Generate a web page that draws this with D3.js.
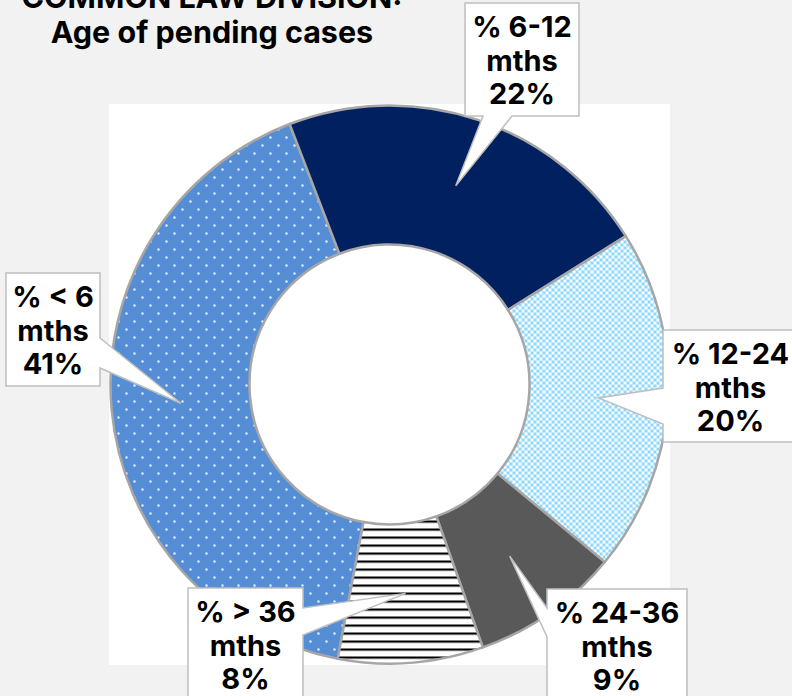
<!DOCTYPE html>
<html>
<head>
<meta charset="utf-8">
<script src="https://cdn.jsdelivr.net/npm/d3@7"></script>
<style>
  html, body { margin: 0; padding: 0; background: #f2f2f2; }
  svg { display: block; }
  text { font-family: Inter, "Liberation Sans", sans-serif; font-weight: 700; fill: #000; }
</style>
</head>
<body>
<svg id="chart" width="792" height="696"></svg>
<script>
// ---- data ----
const titleLines = ["COMMON LAW DIVISION:", "Age of pending cases"];
const categories = ["% < 6 mths", "% 6-12 mths", "% 12-24 mths", "% 24-36 mths", "% > 36 mths"];
const shares = [41.2, 21.9, 19.9, 8.6, 8.4];
const fills = ["url(#dots)", "#002060", "url(#checker)", "#595959", "url(#hlines)"];

// ---- layout ----
const W = 792, H = 696;
const cx = 389.5, cy = 384.5, outerR = 279, innerR = 140;
const firstSliceDeg = 190.7;
const callouts = [
  { x: 6,   y: 273, w: 94,  h: 113, side: "right",  base: [338, 368] },
  { x: 465, y: 3,   w: 114, h: 113, side: "bottom", base: [483, 512] },
  { x: 663, y: 330, w: 135, h: 112, side: "left",   base: [388, 424] },
  { x: 547, y: 589, w: 140, h: 120, side: "left",   base: [608, 637] },
  { x: 188, y: 588, w: 115, h: 120, side: "right",  base: [608, 635] }
];

const svg = d3.select("#chart");
const defs = svg.append("defs");

// patterns
const pDots = defs.append("pattern").attr("id", "dots").attr("patternUnits", "userSpaceOnUse")
  .attr("width", 16).attr("height", 16);
pDots.append("rect").attr("width", 16).attr("height", 16).attr("fill", "#558ed5");
pDots.append("rect").attr("x", 0).attr("y", 0).attr("width", 2).attr("height", 2).attr("fill", "#fff");
pDots.append("rect").attr("x", 8).attr("y", 8).attr("width", 2).attr("height", 2).attr("fill", "#fff");

const pChk = defs.append("pattern").attr("id", "checker").attr("patternUnits", "userSpaceOnUse")
  .attr("width", 6).attr("height", 6);
pChk.append("rect").attr("width", 6).attr("height", 6).attr("fill", "#fff");
pChk.append("rect").attr("x", 0).attr("y", 0).attr("width", 3).attr("height", 3).attr("fill", "#8ad9fd");
pChk.append("rect").attr("x", 3).attr("y", 3).attr("width", 3).attr("height", 3).attr("fill", "#8ad9fd");

const pLines = defs.append("pattern").attr("id", "hlines").attr("patternUnits", "userSpaceOnUse")
  .attr("width", 8).attr("height", 8);
pLines.append("rect").attr("width", 8).attr("height", 8).attr("fill", "#fff");
pLines.append("rect").attr("x", 0).attr("y", 0).attr("width", 8).attr("height", 2.2).attr("fill", "#000");

// background + plot area
svg.append("rect").attr("width", W).attr("height", H).attr("fill", "#f2f2f2");
svg.append("rect")
  .attr("x", cx - outerR - 1.5).attr("y", cy - outerR - 1.5)
  .attr("width", 2 * outerR + 3).attr("height", 2 * outerR + 3)
  .attr("fill", "#fff");

// donut
const data = categories.map((c, i) => ({ cat: c, value: shares[i], fill: fills[i] }));
const start = firstSliceDeg * Math.PI / 180;
const pie = d3.pie().sort(null).value(d => d.value).startAngle(start).endAngle(start + 2 * Math.PI);
const arcs = pie(data);
const arc = d3.arc().innerRadius(innerR).outerRadius(outerR);

const g = svg.append("g").attr("transform", `translate(${cx},${cy})`);
g.selectAll("path.slice").data(arcs).enter().append("path")
  .attr("class", "slice")
  .attr("d", arc)
  .attr("fill", d => d.data.fill)
  .attr("stroke", "#a6a6a6")
  .attr("stroke-width", 2.5)
  .attr("stroke-linejoin", "round");

// title
const title = svg.append("text").attr("text-anchor", "middle").attr("font-size", 30.5);
titleLines.forEach((t, i) => {
  title.append("tspan").attr("x", 212).attr("y", 8 + i * 35).text(t);
});

// callouts
function calloutPath(b, tip) {
  const x0 = b.x, y0 = b.y, x1 = b.x + b.w, y1 = b.y + b.h;
  const [a, c] = b.base;
  const p = [];
  p.push([x0, y0]);
  if (b.side === "top") { p.push([a, y0], tip, [c, y0]); }
  p.push([x1, y0]);
  if (b.side === "right") { p.push([x1, a], tip, [x1, c]); }
  p.push([x1, y1]);
  if (b.side === "bottom") { p.push([c, y1], tip, [a, y1]); }
  p.push([x0, y1]);
  if (b.side === "left") { p.push([x0, c], tip, [x0, a]); }
  return "M" + p.map(q => q[0] + "," + q[1]).join("L") + "Z";
}

const lab = svg.append("g");
arcs.forEach((d, i) => {
  const b = callouts[i];
  const c = arc.centroid(d);
  const tip = [cx + c[0], cy + c[1]];
  lab.append("path")
    .attr("d", calloutPath(b, tip))
    .attr("fill", "#fff")
    .attr("stroke", "#bfbfbf")
    .attr("stroke-width", 1.5)
    .attr("stroke-linejoin", "miter");
  const name = d.data.cat;
  const parts = [name.replace(/ mths$/, ""), "mths", Math.round(d.data.value) + "%"];
  const t = lab.append("text").attr("text-anchor", "middle").attr("font-size", 29);
  parts.forEach((s, k) => {
    t.append("tspan").attr("x", b.x + b.w / 2).attr("y", b.y + 34 + k * 33.5).text(s);
  });
});
</script>
</body>
</html>
